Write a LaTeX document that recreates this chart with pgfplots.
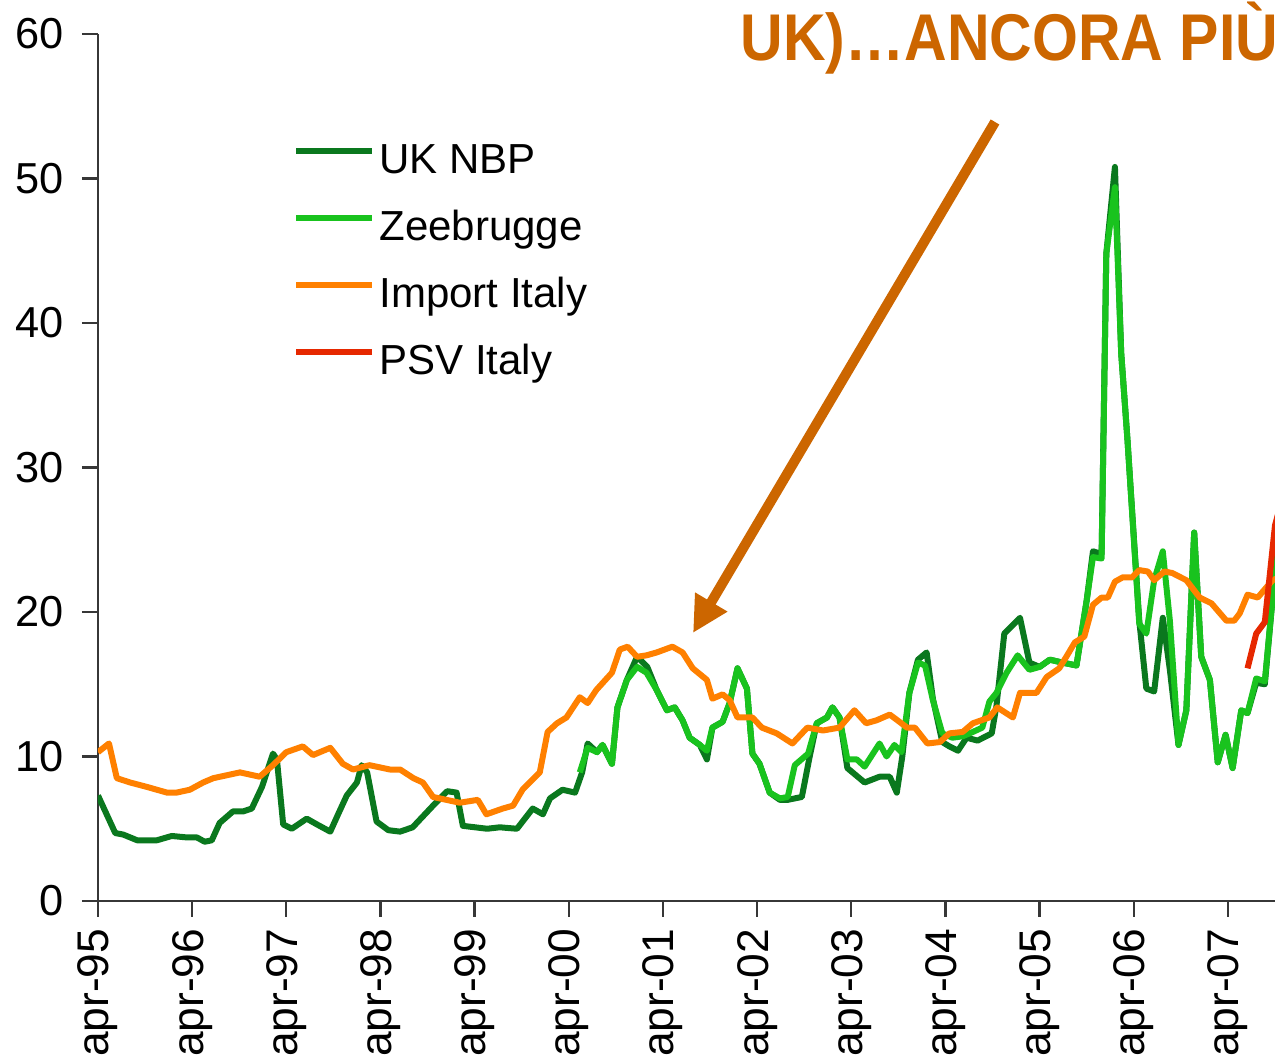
\documentclass[border=0pt]{standalone}
\usepackage{fontspec}
\setmainfont{Liberation Sans}
\usepackage{pgfplots}
\pgfplotsset{compat=1.18}
\usetikzlibrary{arrows.meta}
\definecolor{ukgreen}{RGB}{10,120,30}
\definecolor{zbgreen}{RGB}{25,195,30}
\definecolor{impor}{RGB}{255,128,0}
\definecolor{psvred}{RGB}{230,40,0}
\definecolor{titlecol}{RGB}{204,102,0}
\definecolor{axcol}{RGB}{55,55,55}
\begin{document}
\begin{tikzpicture}
\path[use as bounding box] (-29.4pt,-47.4pt) rectangle (353.1pt,270.3pt);
\clip (-29.4pt,-47.4pt) rectangle (353.1pt,270.3pt);
\begin{axis}[
  scale only axis,
  width=353.1pt, height=260.1pt,
  xmin=0, xmax=150, ymin=0, ymax=60,
  axis x line*=bottom, axis y line*=left,
  axis line style={-, axcol, line width=0.7pt},
  every tick/.style={axcol, line width=0.7pt},
  tick align=outside, major tick length=4.8pt,
  xtick={0,12,24,36,48,60,72,84,96,108,120,132,144},
  xticklabels={apr-95,apr-96,apr-97,apr-98,apr-99,apr-00,apr-01,apr-02,apr-03,apr-04,apr-05,apr-06,apr-07},
  ytick={0,10,20,30,40,50,60},
  /pgf/number format/assume math mode=true,
  xticklabel style={rotate=90, anchor=east, font=\fontsize{13.3}{15}\selectfont},
  yticklabel style={font=\fontsize{13}{15}\selectfont, xshift=-2pt},
  legend style={draw=none, fill=none, at={(0.157,0.882)}, anchor=north west,
    font=\fontsize{12.6}{15}\selectfont, row sep=8.4pt,
    nodes={inner ysep=0pt, inner xsep=1.2pt, text height=9pt, text depth=2.7pt}},
  legend cell align=left,
  legend image code/.code={\draw[#1, line width=1.8pt] (0pt,0.7ex) -- (22.8pt,0.7ex);},
  every axis plot/.append style={line width=1.8pt, line join=round},
]
\addplot[ukgreen] coordinates {
(0,7.3)(2.2,4.7)(3.2,4.6)(5.0,4.2)(7.5,4.2)(9.4,4.5)(11.3,4.4)(12.6,4.4)(13.6,4.1)(14.5,4.2)
(15.5,5.4)(17.2,6.2)(18.5,6.2)(19.6,6.4)(20.9,7.9)(22.3,10.2)(22.8,9.8)(23.6,5.3)(24.7,5.0)
(26.6,5.7)(27.9,5.3)(29.6,4.8)(30.6,6.0)(31.7,7.3)(33.0,8.2)(33.6,9.4)(34.3,8.9)(35.5,5.5)
(37.0,4.9)(38.5,4.8)(40.1,5.1)(42.7,6.6)(44.5,7.6)(45.7,7.5)(46.5,5.2)(49.6,5.0)(51.2,5.1)
(53.4,5.0)(55.4,6.4)(56.7,6.0)(57.6,7.1)(59.2,7.7)(60.8,7.5)(61.7,8.9)(62.4,10.9)(63.6,10.3)
(64.3,10.8)(65.5,9.5)(66.2,13.4)(67.4,15.3)(68.7,16.9)(70.0,16.2)(71.2,14.6)(72.5,13.2)
(73.5,13.4)(74.5,12.5)(75.4,11.3)(76.7,10.8)(77.6,9.8)(78.3,12.0)(79.6,12.4)(80.5,13.7)
(81.5,16.1)(82.7,14.7)(83.4,10.2)(84.3,9.5)(85.6,7.5)(86.9,7.0)(87.9,7.0)(88.8,7.1)(89.7,7.2)
(90.7,10.0)(91.6,12.3)(92.9,12.7)(93.6,13.4)(94.5,12.7)(95.5,9.2)(97.7,8.2)(99.6,8.6)
(100.9,8.6)(101.8,7.5)(102.5,10.0)(103.4,14.4)(104.5,16.7)(105.6,17.2)(106.4,14.0)(107.6,11.0)
(108.5,10.7)(109.6,10.4)(110.7,11.3)(112.1,11.1)(113.9,11.6)(114.5,13.5)(115.5,18.5)(117.5,19.6)
(118.7,16.5)(120.0,16.2)(121.3,16.7)(122.9,16.5)(124.7,16.3)(126.0,20.8)(126.8,24.2)(127.9,24.0)
(128.5,44.8)(129.6,50.8)(130.4,37.9)(131.2,31.9)(132.7,19.4)(133.6,14.7)(134.6,14.5)(135.7,19.6)
(136.6,16.0)(137.7,10.8)(138.7,13.2)(139.7,25.5)(140.6,16.9)(141.7,15.3)(142.7,9.6)(143.7,11.5)
(144.6,9.2)(145.7,13.2)(146.5,13.0)(147.6,15.1)(148.7,15.0)(149.7,21.0)(150.6,26.0)
};
\addlegendentry{UK NBP}
\addplot[zbgreen] coordinates {
(61.4,8.9)(62.4,10.6)(63.6,10.3)(64.3,10.8)(65.5,9.5)(66.2,13.4)(67.4,15.3)(68.7,16.2)
(69.9,15.8)(71.2,14.6)(72.5,13.2)(73.5,13.4)(74.5,12.5)(75.4,11.3)(76.7,10.8)(77.6,10.4)
(78.3,12.0)(79.6,12.4)(80.5,13.7)(81.5,16.1)(82.7,14.7)(83.4,10.2)(84.3,9.5)(85.6,7.5)
(86.9,7.1)(87.9,7.2)(88.8,9.4)(90.5,10.2)(91.6,12.3)(92.9,12.7)(93.6,13.4)(94.5,12.7)
(95.5,9.8)(96.7,9.8)(97.7,9.3)(99.6,10.9)(100.5,10.0)(101.5,10.8)(102.4,10.3)(103.4,14.4)
(104.5,16.5)(105.4,16.3)(106.4,13.9)(107.6,11.6)(108.9,11.3)(110.2,11.4)(111.5,11.7)
(112.7,12.0)(113.6,13.8)(114.5,14.4)(115.8,15.8)(117.2,17.0)(118.7,16.0)(120.0,16.2)
(121.3,16.7)(122.9,16.5)(124.7,16.3)(126.0,20.8)(126.8,23.8)(127.9,23.7)(128.5,44.8)
(129.6,49.4)(130.4,37.9)(131.2,31.9)(132.7,19.2)(133.6,18.5)(134.6,22.2)(135.7,24.2)
(136.6,19.4)(137.7,10.8)(138.7,13.2)(139.7,25.5)(140.6,16.9)(141.7,15.3)(142.7,9.6)
(143.7,11.5)(144.6,9.2)(145.7,13.2)(146.5,13.0)(147.6,15.4)(148.7,15.2)(149.7,21.0)(150.6,25.0)
};
\addlegendentry{Zeebrugge}
\addplot[impor] coordinates {
(0,10.3)(1.4,10.9)(2.4,8.5)(4.1,8.2)(6.2,7.9)(8.8,7.5)(10.0,7.5)(11.7,7.7)(13.4,8.2)(14.7,8.5)
(16.4,8.7)(18.1,8.9)(20.6,8.6)(22.3,9.4)(24.0,10.3)(26.1,10.7)(27.4,10.1)(29.6,10.6)(31.2,9.5)
(32.5,9.1)(34.6,9.4)(37.2,9.1)(38.5,9.1)(40.2,8.5)(41.4,8.2)(42.7,7.2)(44.4,7.0)(46.1,6.8)
(48.4,7.0)(49.5,6.0)(51.6,6.4)(52.9,6.6)(54.1,7.7)(56.3,8.9)(57.3,11.7)(58.5,12.3)(59.7,12.7)
(61.4,14.1)(62.4,13.7)(63.5,14.6)(65.5,15.8)(66.5,17.4)(67.5,17.6)(68.7,16.9)(69.9,17.0)
(71.2,17.2)(73.2,17.6)(74.5,17.2)(75.8,16.1)(77.6,15.3)(78.3,14.0)(79.6,14.3)(80.5,13.9)
(81.5,12.7)(83.4,12.7)(84.6,12.0)(86.5,11.6)(88.5,10.9)(90.4,12.0)(92.4,11.8)(94.5,12.0)
(96.4,13.2)(97.9,12.3)(99.2,12.5)(100.9,12.9)(101.9,12.5)(103.1,12.0)(104.1,12.0)(105.7,10.9)
(107.3,11.0)(108.5,11.6)(110.2,11.7)(111.5,12.3)(113.6,12.7)(114.6,13.4)(116.6,12.7)(117.5,14.4)
(119.6,14.4)(120.9,15.5)(122.5,16.1)(123.4,16.9)(124.5,17.9)(125.7,18.3)(126.8,20.5)(127.9,21.0)
(128.7,21.0)(129.6,22.1)(130.6,22.4)(131.8,22.4)(132.7,22.9)(133.8,22.8)(134.6,22.2)(135.9,22.8)
(136.9,22.7)(138.7,22.2)(140.4,21.0)(141.9,20.6)(143.8,19.4)(144.8,19.4)(145.5,19.9)(146.5,21.2)
(147.8,21.0)(148.9,21.7)(149.7,22.2)(151,22.5)
};
\addlegendentry{Import Italy}
\addplot[psvred] coordinates {
(146.5,16.1)(147.6,18.5)(148.7,19.3)(150.0,26.0)(151,28)
};
\addlegendentry{PSV Italy}
\end{axis}
\node[anchor=base west, inner sep=0pt, text=titlecol] at (192.6pt,252pt)
  {\scalebox{1}[1.12]{\fontsize{17.7}{20}\selectfont\bfseries UK)\dots ANCORA PIÙ CARO}};
\draw[titlecol, line width=3pt, -{Triangle[length=10.8pt,width=10.5pt]}] (269.1pt,233.7pt) -- (178.5pt,80.4pt);
\end{tikzpicture}
\end{document}
